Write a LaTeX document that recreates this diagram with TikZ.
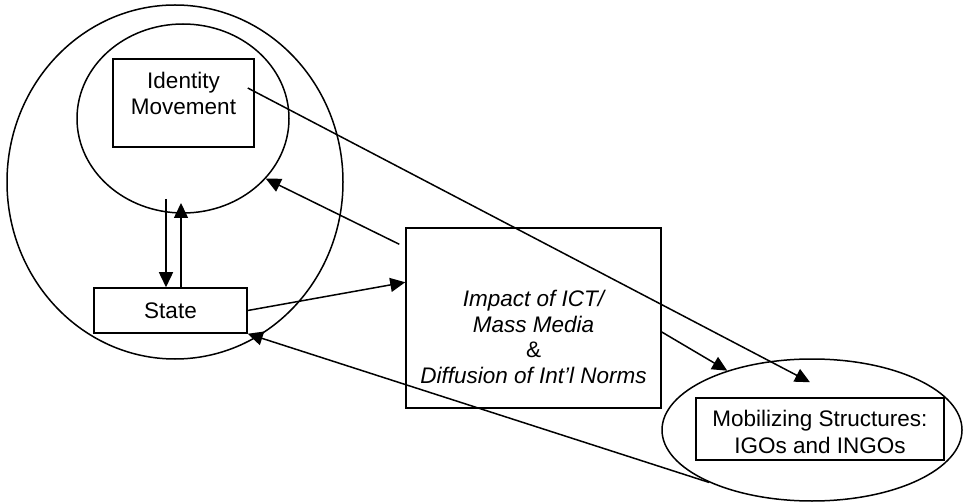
\documentclass[tikz,border=0pt]{standalone}
\usepackage{fontspec}
\setmainfont{Liberation Sans}
\usetikzlibrary{shapes.geometric,arrows.meta,calc}
\begin{document}
\begin{tikzpicture}[x=1pt,y=-1pt,
  line width=1.5pt,
  box/.style={draw, rectangle, inner sep=0pt, line width=1.5pt},
  oval/.style={draw, ellipse, inner sep=0pt, line width=1.5pt},
  txt/.style={align=center, font=\fontsize{22.5}{25.5}\selectfont, inner sep=0pt},
  arr/.style={-{Triangle[length=15pt,width=14pt]}, line width=1.5pt}]
\useasboundingbox (0,0) rectangle (963,502);
% containers
\node[oval, minimum width=336pt, minimum height=354pt] (outer) at (175,182) {};
\node[oval, minimum width=212pt, minimum height=189pt] (inner) at (183,118.5) {};
\node[oval, minimum width=300pt, minimum height=142pt] (mobell) at (812,430) {};
% boxes
\node[box, minimum width=141pt, minimum height=88pt] (idm) at (183.5,103) {};
\node[txt] (idmtext) at ($(idm.center)+(0,-9.5)$) {Identity\\Movement};
\node[box, minimum width=153pt, minimum height=45pt, txt] (state) at (170.5,310.5) {State};
\node[box, minimum width=255pt, minimum height=180pt] (mid) at (533.5,318) {};
\node[txt] (midtext) at ($(mid.center)+(0,19)$) {\itshape Impact of ICT/\\\itshape Mass Media\\\&\\\itshape Diffusion of Int’l Norms};
\node[box, minimum width=248pt, minimum height=62pt] (mobbox) at (820,429) {};
\node[txt, font=\fontsize{22.5}{27}\selectfont] (mobtext) at ($(mobbox.center)+(0,3)$) {Mobilizing Structures:\\IGOs and INGOs};
% connectors
\coordinate (dtop) at (166,199);
\coordinate (utop) at (181,203);
\draw[arr] (dtop) -- (dtop |- state.north);
\draw[arr] (utop |- state.north) -- (utop);
\draw[arr] (state.east) -- ($(mid.north west)+(0,55)$);
\draw[arr] ($(mid.north west)+(-6,17)$) -- (inner.-36);
\draw[arr] ($(idm.east)+(-7,-15)$) -- ($(mobbox.north)+(-10,-15)$);
\draw[arr] ($(mid.east)+(0,14)$) -- (mobell.145);
\draw[arr] (mobell.207) -- (state.south east);
\end{tikzpicture}
\end{document}
